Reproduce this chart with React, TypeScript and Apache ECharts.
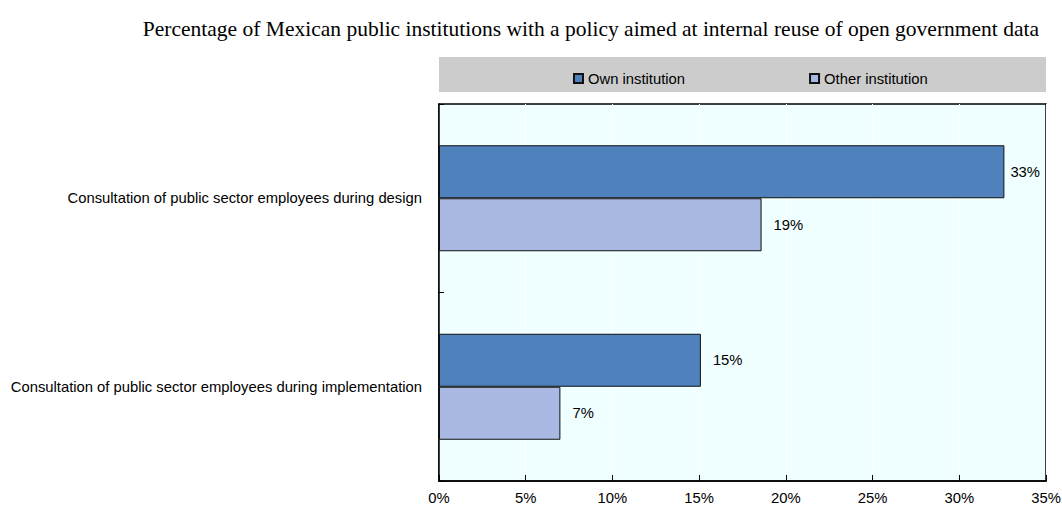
import React, { useEffect, useRef } from "react";
import * as echarts from "echarts";

const TITLE = "Percentage of Mexican public institutions with a policy aimed at internal reuse of open government data";
const categories = [
  "Consultation of public sector employees during design",
  "Consultation of public sector employees during implementation",
];
const seriesNames = ["Own institution", "Other institution"];
const ownValues = [32.6, 15.1];
const otherValues = [18.6, 7.0];
const xTicks = { min: 0, max: 35, interval: 5 };

const FONT = "'Liberation Sans', Arial, sans-serif";
const FS = 14.8;

export default function App() {
  const ref = useRef<HTMLDivElement>(null);
  useEffect(() => {
    if (!ref.current) return;
    const chart = echarts.init(ref.current, undefined, { renderer: "svg" });
    const labelCfg = {
      show: true,
      position: "right",
      distance: 12,
      color: "#000",
      fontFamily: FONT,
      fontSize: FS,
      formatter: (p: any) => Math.round(p.value) + "%",
    };
    chart.setOption({
      animation: false,
      backgroundColor: "#fff",
      title: {
        text: TITLE,
        right: 18,
        top: 13,
        textStyle: { fontFamily: "'Liberation Serif', 'Times New Roman', serif", fontSize: 21.5, fontWeight: "normal", color: "#000" },
      },
      graphic: [
        { type: "rect", z: -1, shape: { x: 439, y: 57, width: 607, height: 35 }, style: { fill: "#CCCCCC" } },
      ],
      legend: {
        left: 568,
        top: 66,
        itemWidth: 9,
        itemHeight: 9,
        itemGap: 124,
        icon: "rect",
        textStyle: { fontFamily: FONT, fontSize: FS, color: "#000" },
        data: seriesNames,
      },
      grid: {
        left: 439,
        top: 104,
        width: 607,
        height: 377,
        containLabel: false,
        outerBoundsMode: "none",
        show: true,
        backgroundColor: "#F0FFFF",
        borderColor: "#000",
        borderWidth: 1.5,
      },
      xAxis: {
        type: "value",
        min: xTicks.min,
        max: xTicks.max,
        interval: xTicks.interval,
        axisLine: { show: true, lineStyle: { color: "#000", width: 1.5 } },
        axisTick: { show: true, inside: true, length: 6, lineStyle: { color: "#000" } },
        splitLine: { show: true, lineStyle: { color: "#ffffff", width: 1 } },
        axisLabel: { formatter: "{value}%", color: "#000", fontFamily: FONT, fontSize: FS, margin: 9 },
      },
      yAxis: {
        type: "category",
        inverse: true,
        data: categories,
        axisLine: { show: true, lineStyle: { color: "#000", width: 1.5 } },
        axisTick: { show: true, inside: true, length: 5, lineStyle: { color: "#000" } },
        axisLabel: { color: "#000", fontFamily: FONT, fontSize: FS, margin: 17 },
      },
      series: [
        {
          name: seriesNames[0],
          type: "bar",
          barWidth: 53,
          barGap: "0%",
          itemStyle: { color: "#4F81BD", borderColor: "#111", borderWidth: 1 },
          label: labelCfg,
          data: ownValues.map((v, i) => (i === 0 ? { value: v, label: { distance: 6 } } : v)),
        },
        {
          name: seriesNames[1],
          type: "bar",
          barWidth: 53,
          barGap: "0%",
          itemStyle: { color: "#A9B9E3", borderColor: "#111", borderWidth: 1 },
          label: labelCfg,
          data: otherValues,
        },
      ],
    });
    return () => chart.dispose();
  }, []);
  return <div ref={ref} style={{ position: "absolute", left: 0, top: 0, width: 1062, height: 511 }} />;
}
